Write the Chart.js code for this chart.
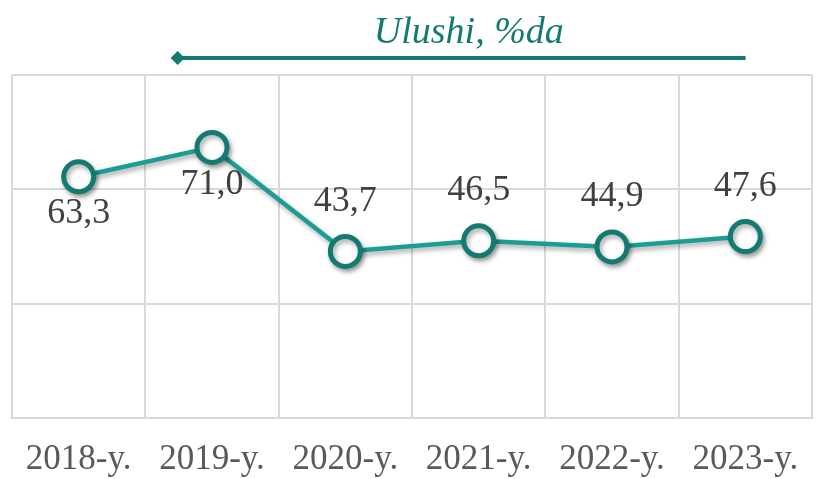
<!DOCTYPE html>
<html>
<head>
<meta charset="utf-8">
<script src="https://cdn.jsdelivr.net/npm/chart.js@4"></script>
<style>
  html, body { margin: 0; padding: 0; background: #ffffff; }
  #wrap { width: 818px; height: 479px; }
</style>
</head>
<body>
<div id="wrap"><canvas id="chart" width="818" height="479"></canvas></div>
<script>
    "use strict";

    // chart data
    const years = ["2018-y.", "2019-y.", "2020-y.", "2021-y.", "2022-y.", "2023-y."];
    const shares = [63.3, 71.0, 43.7, 46.5, 44.9, 47.6];
    const labelBelow = [true, true, false, false, false, false];
    const titleText = "Ulushi, %da";

    const teal = '#1b9d95';
    const tealDark = '#137a72';
    const fontFamily = "'Liberation Serif', 'Times New Roman', serif";

    // soft shadow under the line and markers
    const shadowPlugin = {
        id: 'shadow',
        beforeDatasetDraw(chart) {
            const ctx = chart.ctx;
            ctx.save();
            ctx.shadowColor = 'rgba(0,0,0,0.35)';
            ctx.shadowBlur = 5;
            ctx.shadowOffsetX = 2;
            ctx.shadowOffsetY = 3;
        },
        afterDatasetDraw(chart) {
            chart.ctx.restore();
        }
    };

    // value labels with comma decimals
    const valueLabels = {
        id: 'valueLabels',
        afterDatasetsDraw(chart) {
            const ctx = chart.ctx;
            const meta = chart.getDatasetMeta(0);
            ctx.save();
            ctx.font = "36px " + fontFamily;
            ctx.fillStyle = '#404040';
            ctx.textAlign = 'center';
            ctx.textBaseline = 'middle';
            meta.data.forEach((pt, i) => {
                const txt = shares[i].toFixed(1).replace('.', ',');
                const dy = labelBelow[i] ? 37 : -50;
                ctx.fillText(txt, pt.x, pt.y + dy);
            });
            ctx.restore();
        }
    };

    // title with the arrow line under it
    const titleDeco = {
        id: 'titleDeco',
        afterDraw(chart) {
            const ctx = chart.ctx;
            const area = chart.chartArea;
            const w = area.right - area.left;
            const x0 = area.left + w * 0.207;
            const x1 = area.left + w * 0.917;
            const yLine = area.top - 17;
            ctx.save();
            ctx.font = "italic 38px " + fontFamily;
            ctx.fillStyle = tealDark;
            ctx.textAlign = 'center';
            ctx.textBaseline = 'middle';
            ctx.fillText(titleText, area.left + w * 0.571, area.top - 42);
            ctx.strokeStyle = tealDark;
            ctx.lineWidth = 4;
            ctx.beginPath();
            ctx.moveTo(x0, yLine);
            ctx.lineTo(x1, yLine);
            ctx.stroke();
            ctx.fillStyle = tealDark;
            ctx.beginPath();
            ctx.moveTo(x0 - 7, yLine);
            ctx.lineTo(x0, yLine - 7);
            ctx.lineTo(x0 + 7, yLine);
            ctx.lineTo(x0, yLine + 7);
            ctx.closePath();
            ctx.fill();
            ctx.restore();
        }
    };

    new Chart(document.getElementById('chart'), {
        type: 'line',
        data: {
            labels: years,
            datasets: [{
                data: shares,
                borderColor: teal,
                borderWidth: 4.5,
                pointRadius: 15,
                pointHoverRadius: 15,
                pointBorderWidth: 5,
                pointBorderColor: tealDark,
                pointBackgroundColor: '#ffffff',
                tension: 0
            }]
        },
        options: {
            animation: false,
            responsive: false,
            layout: { autoPadding: false, padding: { left: 12, right: 6, top: 75, bottom: 0 } },
            plugins: {
                legend: { display: false },
                tooltip: { enabled: false },
                title: { display: false }
            },
            scales: {
                x: {
                    offset: true,
                    grid: { offset: true, color: '#d9d9d9', lineWidth: 2, drawTicks: false },
                    border: { color: '#d9d9d9', width: 2 },
                    ticks: {
                        padding: 24,
                        color: '#595959',
                        font: { family: fontFamily, size: 35, lineHeight: 1 }
                    },
                    afterFit(scale) {
                        // fixed band for the year labels, no extra side padding
                        scale.height = 61;
                        scale.paddingLeft = 0;
                        scale.paddingRight = 0;
                    }
                },
                y: {
                    min: 0,
                    max: 90,
                    grid: { color: '#d9d9d9', lineWidth: 2, drawTicks: false },
                    border: { display: false },
                    ticks: { stepSize: 30, display: false }
                }
            }
        },
        plugins: [shadowPlugin, valueLabels, titleDeco]
    });
</script>
</body>
</html>
